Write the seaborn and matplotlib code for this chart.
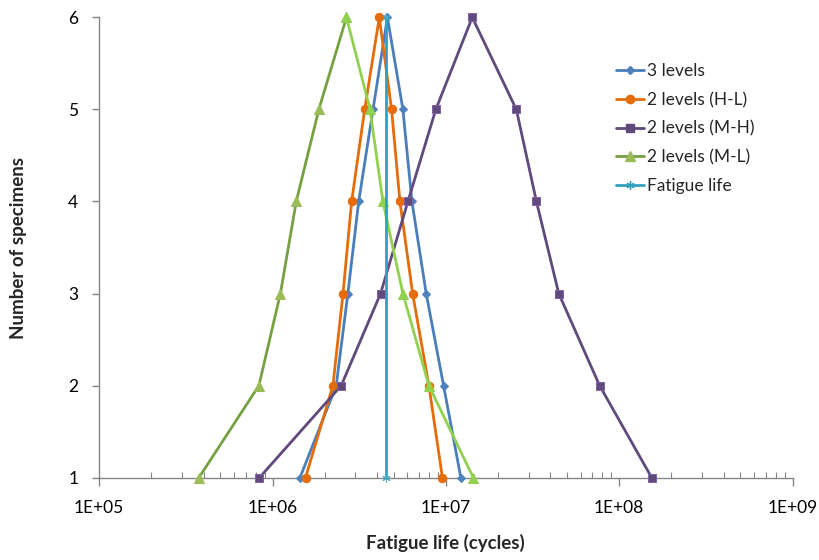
import numpy as np
import pandas as pd
import seaborn as sns
import matplotlib.pyplot as plt
from matplotlib.lines import Line2D
from matplotlib.ticker import FixedLocator, FuncFormatter, LogLocator, NullFormatter


# Data: fatigue life (cycles) at each specimen count, left branch up, right branch down
counts = [1, 2, 3, 4, 5, 6, 5, 4, 3, 2, 1]
three_levels = [1.44e6, 2.33e6, 2.72e6, 3.14e6, 3.8e6, 4.6e6, 5.65e6, 6.37e6, 7.7e6, 9.7e6, 1.22e7]
two_levels_hl = [1.55e6, 2.23e6, 2.55e6, 2.86e6, 3.4e6, 4.13e6, 4.86e6, 5.43e6, 6.43e6, 7.98e6, 9.55e6]
two_levels_mh = [8.4e5, 2.49e6, 4.2e6, 6.04e6, 8.75e6, 1.42e7, 2.55e7, 3.33e7, 4.48e7, 7.71e7, 1.54e8]
two_levels_ml = [3.76e5, 8.34e5, 1.11e6, 1.37e6, 1.85e6, 2.67e6, 3.65e6, 4.33e6, 5.65e6, 7.98e6, 1.44e7]
fatigue_life = 4.53e6
fatigue_counts = [1, 6]

series_names = ["3 levels", "2 levels (H-L)", "2 levels (M-H)", "2 levels (M-L)", "Fatigue life"]


sns.set_style("white")
plt.rcParams["font.family"] = ["Lato", "DejaVu Sans"]

fig = plt.figure(figsize=(8.2, 5.6), dpi=100)
ax = fig.add_axes([0.121, 0.147, 0.8455, 0.822])

lw = 2.0
styles = [
    dict(color="#4a7ebb", marker="D", markersize=4.5, mfc="#4f81bd", mec="#4f81bd"),
    dict(color="#e46c0a", marker="o", markersize=6, mfc="#e46c0a", mec="#e46c0a"),
    dict(color="#604a7b", marker="s", markersize=6, mfc="#604a7b", mec="#8064a2"),
]
data_sets = [three_levels, two_levels_hl, two_levels_mh]

for i, (xs, st) in enumerate(zip(data_sets, styles)):
    df = pd.DataFrame({"life": xs, "count": counts})
    sns.lineplot(data=df, x="life", y="count", sort=False, estimator=None, ax=ax,
                 linewidth=lw, zorder=3 + i, clip_on=False, **st)

# M-L series: left branch olive, right branch light green
df_ml = pd.DataFrame({"life": two_levels_ml, "count": counts})
sns.lineplot(data=df_ml.iloc[:6], x="life", y="count", sort=False, estimator=None, ax=ax,
             color="#77a043", linewidth=lw, marker="^", markersize=6.5,
             mfc="#9bbb59", mec="#9bbb59", zorder=6, clip_on=False)
sns.lineplot(data=df_ml.iloc[5:], x="life", y="count", sort=False, estimator=None, ax=ax,
             color="#92d050", linewidth=lw, marker="^", markersize=6.5,
             mfc="#92d050", mec="#92d050", zorder=6, clip_on=False)

df_fl = pd.DataFrame({"life": [fatigue_life] * 2, "count": fatigue_counts})
sns.lineplot(data=df_fl, x="life", y="count", sort=False, estimator=None, ax=ax,
             color="#31a0c0", linewidth=lw, marker=(6, 2, 0), markersize=6,
             mec="#4bacc6", zorder=7, clip_on=False)

ax.set_xscale("log")
ax.set_xlim(1e5, 1e9)
ax.set_ylim(1, 6)

ax.xaxis.set_major_locator(FixedLocator([1e5, 1e6, 1e7, 1e8, 1e9]))
ax.xaxis.set_major_formatter(FuncFormatter(lambda v, p: f"1E+{int(round(np.log10(v))):02d}"))
ax.xaxis.set_minor_locator(LogLocator(base=10, subs=np.arange(2, 10), numticks=20))
ax.xaxis.set_minor_formatter(NullFormatter())
ax.set_yticks([1, 2, 3, 4, 5, 6])

axis_col = "#868686"
for side in ["top", "right"]:
    ax.spines[side].set_visible(False)
for side in ["left", "bottom"]:
    ax.spines[side].set_color(axis_col)
    ax.spines[side].set_linewidth(1.0)

ax.tick_params(which="both", bottom=True, left=True, top=False, right=False)
ax.tick_params(axis="x", which="major", direction="out", length=6, width=1, color=axis_col,
               labelsize=12.5, pad=10, labelcolor="black")
ax.tick_params(axis="x", which="minor", direction="in", length=4, width=0.8, color=axis_col)
ax.tick_params(axis="y", which="major", direction="out", length=5, width=1, color=axis_col,
               labelsize=12.5, pad=10, labelcolor="black")

ax.set_xlabel("Fatigue life (cycles)", fontsize=13.5, fontweight="bold", labelpad=13)
ax.set_ylabel("Number of specimens", fontsize=13.5, fontweight="bold", labelpad=30)

legend_colors = ["#4a7ebb", "#e46c0a", "#604a7b", "#77a043", "#31a0c0"]
legend_markers = ["D", "o", "s", "^", (6, 2, 0)]
legend_mfc = ["#4f81bd", "#e46c0a", "#604a7b", "#9bbb59", "#4bacc6"]
legend_ms = [4.5, 6, 6, 6.5, 6]
handles = [Line2D([0], [0], color=c, lw=lw, marker=m, mfc=f, mec=f if i != 4 else c, markersize=s)
           for i, (c, m, f, s) in enumerate(zip(legend_colors, legend_markers, legend_mfc, legend_ms))]
ax.legend(handles, series_names, loc="upper left", bbox_to_anchor=(0.735, 0.915),
          frameon=False, fontsize=12.5, handlelength=1.6, handletextpad=0.2,
          labelspacing=0.72, borderaxespad=0)

fig.savefig("out.png", dpi=100)
